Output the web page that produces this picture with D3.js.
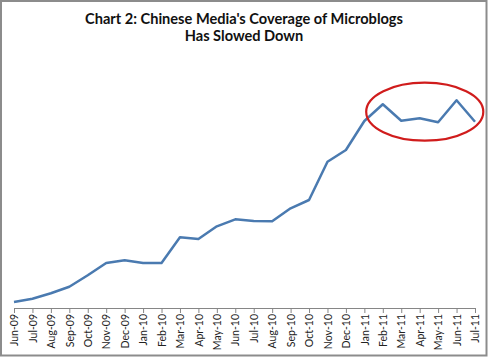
<!DOCTYPE html>
<html>
<head>
<meta charset="utf-8">
<script src="https://cdn.jsdelivr.net/npm/d3@7"></script>
<style>
  html, body { margin: 0; padding: 0; background: #fff; }
  svg { display: block; }
</style>
</head>
<body>
<svg id="chart" width="489" height="357"></svg>
<script>
const months = ["Jun-09","Jul-09","Aug-09","Sep-09","Oct-09","Nov-09","Dec-09","Jan-10","Feb-10","Mar-10","Apr-10","May-10","Jun-10","Jul-10","Aug-10","Sep-10","Oct-10","Nov-10","Dec-10","Jan-11","Feb-11","Mar-11","Apr-11","May-11","Jun-11","Jul-11"];
const coverage = [60, 93, 147, 213, 327, 450, 477, 450, 450, 707, 690, 817, 887, 870, 867, 997, 1080, 1463, 1580, 1870, 2037, 1873, 1897, 1857, 2077, 1863];
const titleLines = ["Chart 2: Chinese Media's Coverage of Microblogs", "Has Slowed Down"];
// highlighted period (annotation ellipse), in category index / value units
const highlight = { fromIdx: 19.1, toIdx: 25.45, lowVal: 1673, highVal: 2253 };

const svg = d3.select("#chart");

// outer frame
svg.append("rect").attr("x", 1).attr("y", 1).attr("width", 485.5).attr("height", 354.5)
  .attr("fill", "#fff").attr("stroke", "#8c8c8c").attr("stroke-width", 2);

const x = d3.scalePoint().domain(months).range([14, 475]);
const y = d3.scaleLinear().domain([0, 2500]).range([308, 58]);
const xi = d3.scaleLinear().domain([0, months.length - 1]).range([14, 475]);

// title
svg.append("g").selectAll("text").data(titleLines).join("text")
  .attr("x", 244).attr("y", (d, i) => 23.5 + i * 17.5)
  .attr("text-anchor", "middle")
  .attr("font-family", "Lato, 'Open Sans', sans-serif")
  .attr("font-weight", "bold").attr("font-size", 14.6)
  .attr("fill", "#111")
  .text(d => d);

// x axis
const axis = svg.append("g").attr("transform", "translate(0,308)")
  .call(d3.axisBottom(x).tickSize(5).tickPadding(3));
axis.select(".domain").attr("stroke", "#868686").attr("stroke-width", 1);
axis.selectAll(".tick line").attr("stroke", "#868686");
axis.selectAll(".tick text")
  .attr("font-family", "Lato, 'Open Sans', sans-serif")
  .attr("font-size", 10.5).attr("fill", "#222")
  .attr("transform", "rotate(-90)")
  .attr("text-anchor", "end")
  .attr("x", -6).attr("y", 0).attr("dy", "0.35em");

// line
const line = d3.line().x((d, i) => x(months[i])).y(d => y(d));
svg.append("path").datum(coverage)
  .attr("d", line)
  .attr("fill", "none").attr("stroke", "#4a7ab0").attr("stroke-width", 2.5)
  .attr("stroke-linejoin", "round");

// highlight ellipse
const cx = (xi(highlight.fromIdx) + xi(highlight.toIdx)) / 2;
const rx = (xi(highlight.toIdx) - xi(highlight.fromIdx)) / 2;
const cy = (y(highlight.lowVal) + y(highlight.highVal)) / 2;
const ry = Math.abs(y(highlight.lowVal) - y(highlight.highVal)) / 2;
svg.append("ellipse").attr("cx", cx).attr("cy", cy).attr("rx", rx).attr("ry", ry)
  .attr("fill", "none").attr("stroke", "#d01c1c").attr("stroke-width", 2.2);
</script>
</body>
</html>
